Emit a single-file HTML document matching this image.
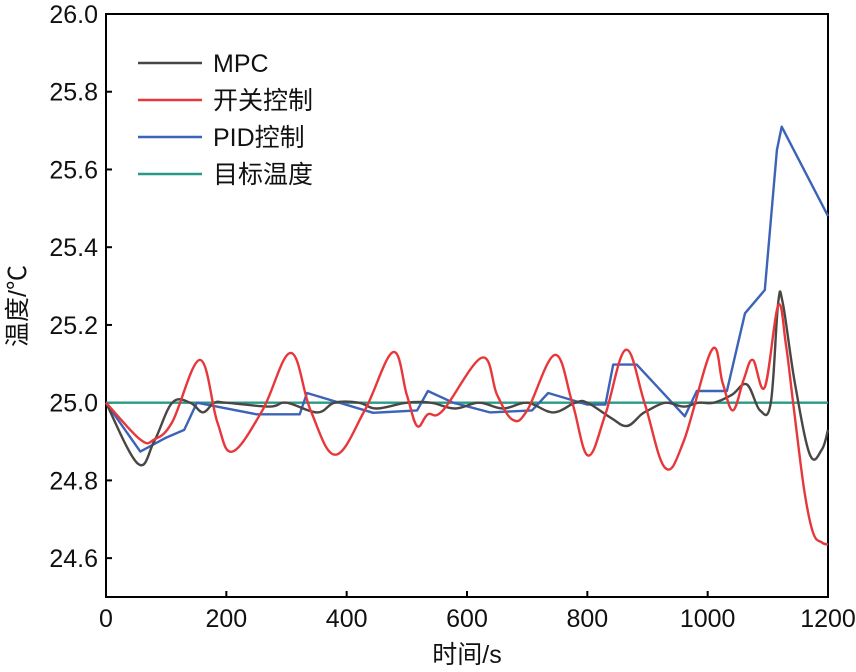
<!DOCTYPE html>
<html><head><meta charset="utf-8"><style>
body{margin:0;background:#fff}
svg text{font-family:"Liberation Sans","Noto Sans CJK SC",sans-serif;fill:#111}
</style></head><body>
<svg id="chart" width="856" height="667">
<g id="axes"></g><g id="series"></g><g id="legend"></g>
</svg>
<script>
const xTicks=[0,200,400,600,800,1000,1200];
const yTicks=[24.6,24.8,25.0,25.2,25.4,25.6,25.8,26.0];
const seriesNames=["MPC","开关控制","PID控制","目标温度"];
const mpcT=[0,53,80,110,140,161,180,200,272,300,351,380,420,450,500,540,580,620,660,700,743,780,800,840,866,890,901,930,960,985,1010,1040,1065,1087,1105,1117,1125,1145,1170,1190,1200];
const mpcV=[25.0,24.843,24.9,25.0,25.0,24.975,25.0,25.0,24.99,25.0,24.975,25.0,25.0,24.985,25.0,25.0,24.985,25.0,24.985,25.0,24.975,25.0,25.0,24.96,24.94,24.97,24.98,25.0,24.99,25.0,25.0,25.02,25.047,24.98,25.0,25.255,25.255,25.05,24.866,24.88,24.93];
const onoffT=[0,57,80,110,156,185,210,260,307,340,381,430,477,500,517,535,560,625,650,676,700,746,775,801,830,864,895,929,960,1007,1025,1042,1060,1075,1095,1117,1130,1142,1160,1175,1190,1200];
const onoffV=[25.0,24.905,24.905,24.95,25.11,24.95,24.874,24.98,25.128,24.98,24.866,24.98,25.13,25.02,24.94,24.97,24.98,25.116,25.02,24.956,24.98,25.123,25.0,24.864,24.97,25.136,25.0,24.833,24.9,25.136,25.05,24.98,25.06,25.11,25.04,25.25,25.15,25.0,24.78,24.666,24.64,24.635];
const pidT=[0,57,100,130,151,250,280,322,334,444,517,535,577,638,708,735,800,830,843,882,962,982,1032,1062,1095,1115,1123,1200];
const pidV=[25.0,24.874,24.91,24.93,25.0,24.97,24.97,24.97,25.025,24.974,24.98,25.03,25.0,24.975,24.98,25.025,24.995,24.995,25.098,25.098,24.965,25.03,25.03,25.23,25.29,25.65,25.71,25.48];
const targetT=[0,1200];
const targetV=[25.0,25.0];

const L=106,R=828,T=14,B=597;
const xs=t=>L+(t/1200)*(R-L);
const ys=v=>B-((v-24.5)/1.5)*(B-T);
const NS="http://www.w3.org/2000/svg";
function mk(tag,attrs,parent){const e=document.createElementNS(NS,tag);for(const k in attrs)e.setAttribute(k,attrs[k]);parent.appendChild(e);return e;}
function smoothPath(P){
  let d='M'+P[0][0].toFixed(1)+','+P[0][1].toFixed(1);
  const k=0.18;
  for(let i=0;i<P.length-1;i++){
    const p0=P[i-1]||P[i],p1=P[i],p2=P[i+1],p3=P[i+2]||P[i+1];
    const c1=[p1[0]+(p2[0]-p0[0])*k,p1[1]+(p2[1]-p0[1])*k];
    const c2=[p2[0]-(p3[0]-p1[0])*k,p2[1]-(p3[1]-p1[1])*k];
    d+=' C'+c1.map(v=>v.toFixed(1)).join(',')+' '+c2.map(v=>v.toFixed(1)).join(',')+' '+p2[0].toFixed(1)+','+p2[1].toFixed(1);
  }
  return d;
}
const ax=document.getElementById('axes');
const frame=mk('rect',{x:L,y:T,width:R-L,height:B-T,fill:'none',stroke:'#000','stroke-width':2},ax);


xTicks.forEach(t=>{
  const tk=mk('line',{x1:xs(t),x2:xs(t),y1:B,y2:B-6,stroke:'#000','stroke-width':2},ax);
  
  
  const tx=mk('text',{x:xs(t),y:B+30,'text-anchor':'middle','font-size':25},ax);
  tx.textContent=t;
  
  
});
yTicks.forEach(v=>{
  const tk=mk('line',{x1:L,x2:L+6,y1:ys(v),y2:ys(v),stroke:'#000','stroke-width':2},ax);
  
  
  const tx=mk('text',{x:L-8,y:ys(v)+9,'text-anchor':'end','font-size':25},ax);
  tx.textContent=v.toFixed(1);
  
  
});
const xt=mk('text',{x:(L+R)/2,y:663,'text-anchor':'middle','font-size':25},ax);
xt.textContent='时间/s';


const yt=mk('text',{x:0,y:0,'text-anchor':'middle','font-size':25,transform:'translate(26,306) rotate(-90)'},ax);
yt.textContent='温度/℃';



const sg=document.getElementById('series');
const colors=['#4a4644','#e8373a','#3d63b8','#2a9a86'];
const data=[[mpcT,mpcV],[onoffT,onoffV],[pidT,pidV],[targetT,targetV]];
const names=['mpc-line','onoff-line','pid-line','target-line'];
const smooth=[true,true,false,false];
const order=[3,2,0,1];
order.forEach(i=>{
  const [tt,vv]=data[i];
  const P=tt.map((t,j)=>[xs(t),ys(vv[j])]);
  let d;
  if(smooth[i]) d=smoothPath(P);
  else d='M'+P.map(p=>p[0].toFixed(1)+','+p[1].toFixed(1)).join(' L');
  const p=mk('path',{d:d,fill:'none',stroke:colors[i],'stroke-width':2.4,'stroke-linejoin':'round'},sg);
  
  
});
const lg=document.getElementById('legend');
seriesNames.forEach((n,i)=>{
  const y=63+i*37;
  const l=mk('line',{x1:138,x2:202,y1:y,y2:y,stroke:colors[i],'stroke-width':2.6},lg);
  
  
  const t=mk('text',{x:213,y:y+9,'font-size':25},lg);
  t.textContent=n;
  
  
});
</script>
</body></html>
